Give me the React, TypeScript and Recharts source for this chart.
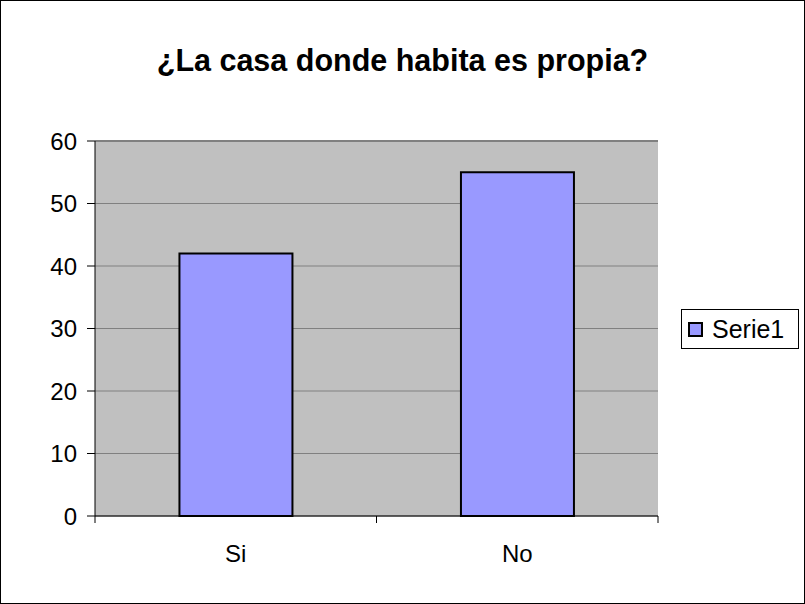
import React from "react";
import {
  BarChart,
  Bar,
  XAxis,
  YAxis,
  CartesianGrid,
  Legend,
  ReferenceLine,
} from "recharts";

const categories = ["Si", "No"];
const serie1 = [42, 55];
const yTicks = [0, 10, 20, 30, 40, 50, 60];
const seriesName = "Serie1";
const title = "¿La casa donde habita es propia?";

const data = categories.map((name, i) => ({ name, serie1: serie1[i] }));

const FONT = '"Liberation Sans", Arial, sans-serif';
const LABEL_GAP = 29;
const MARK_LEN = 7;

// category label plus the spreadsheet-style tick marks between categories
function CategoryTick({ x, y, payload, index, visibleTicksCount }: any) {
  const axisY = y - LABEL_GAP;
  const half = payload.offset || 0;
  const last = index === visibleTicksCount - 1;
  return (
    <g>
      <line x1={x - half} x2={x - half} y1={axisY} y2={axisY + MARK_LEN} stroke="#000" />
      {last && (
        <line x1={x + half} x2={x + half} y1={axisY} y2={axisY + MARK_LEN} stroke="#000" />
      )}
      <text
        x={x}
        y={y}
        dy="0.71em"
        textAnchor="middle"
        fontSize={24}
        fontFamily={FONT}
        fill="#000"
      >
        {payload.value}
      </text>
    </g>
  );
}

function LegendBox({ payload }: any) {
  return (
    <div
      style={{
        border: "1px solid #000",
        background: "#fff",
        width: 116,
        height: 38,
        display: "flex",
        alignItems: "center",
        fontFamily: FONT,
        fontSize: 25,
        color: "#000",
      }}
    >
      {(payload || []).map((p: any) => (
        <div key={p.value} style={{ display: "flex", alignItems: "center" }}>
          <span
            style={{
              display: "inline-block",
              width: 11,
              height: 11,
              marginLeft: 6,
              marginRight: 9,
              background: "#9999FF",
              border: "2px solid #000",
            }}
          />
          <span>{p.value}</span>
        </div>
      ))}
    </div>
  );
}

export default function App() {
  return (
    <div style={{ position: "relative", width: 805, height: 604, background: "#fff" }}>
      <style>{`body{margin:0}`}</style>
      <BarChart
        width={805}
        height={604}
        data={data}
        margin={{ top: 141, right: 147, bottom: 0, left: 0 }}
        barCategoryGap="30%"
      >
        <CartesianGrid fill="#C0C0C0" stroke="#808080" vertical={false} />
        <ReferenceLine y={60} stroke="#808080" strokeWidth={2} />
        <YAxis
          yAxisId="r"
          orientation="right"
          domain={[0, 60]}
          width={0}
          tick={false}
          tickLine={false}
          axisLine={{ stroke: "#808080", strokeWidth: 2 }}
        />
        <Bar
          dataKey="serie1"
          name={seriesName}
          fill="#9999FF"
          stroke="#000"
          strokeWidth={2}
          isAnimationActive={false}
        />
        <XAxis
          dataKey="name"
          height={88}
          axisLine={{ stroke: "#000" }}
          tickLine={false}
          tickSize={0}
          tickMargin={LABEL_GAP}
          tick={<CategoryTick />}
        />
        <YAxis
          domain={[0, 60]}
          ticks={yTicks}
          width={95}
          tickSize={8}
          tickMargin={10}
          axisLine={{ stroke: "#000" }}
          tickLine={{ stroke: "#000" }}
          tick={{ fontSize: 24, fill: "#000", fontFamily: FONT }}
          interval={0}
        />
        <Legend
          layout="vertical"
          align="center"
          verticalAlign="middle"
          content={LegendBox}
          wrapperStyle={{ left: 681, top: 309, width: 118 }}
        />
      </BarChart>
      <div
        style={{
          position: "absolute",
          left: 0,
          top: 45,
          width: 805,
          textAlign: "center",
          fontFamily: FONT,
          fontWeight: "bold",
          fontSize: 30.5,
          lineHeight: "30px",
          color: "#000",
        }}
      >
        {title}
      </div>
      <div
        style={{
          position: "absolute",
          inset: 0,
          border: "1px solid #000",
          pointerEvents: "none",
        }}
      />
    </div>
  );
}
